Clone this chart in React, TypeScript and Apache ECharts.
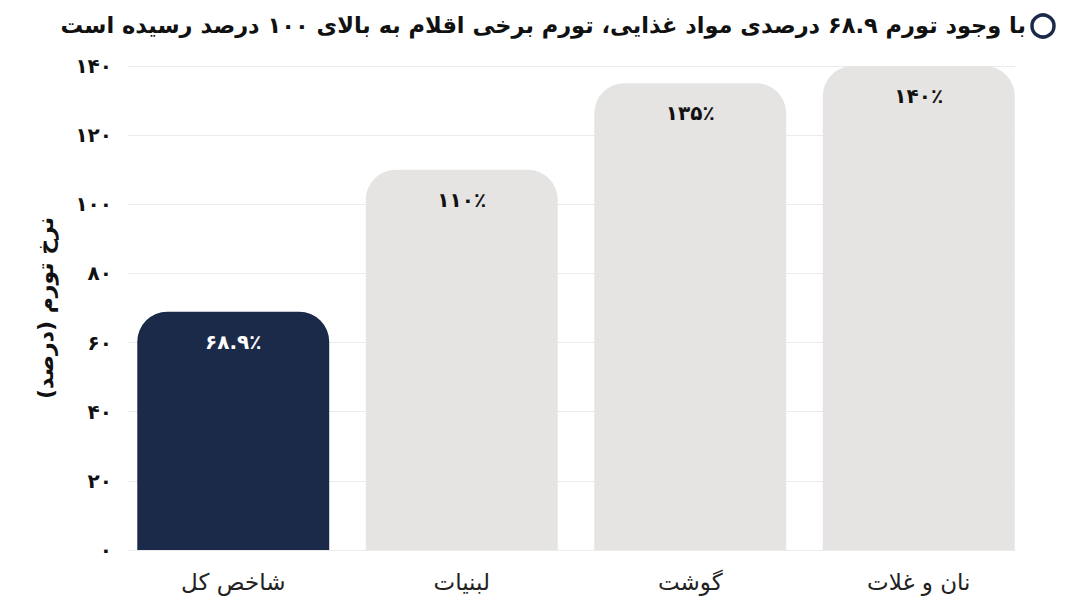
import React, { useEffect, useRef } from "react";
import * as echarts from "echarts";

const titleText = "با وجود تورم ۶۸.۹ درصدی مواد غذایی، تورم برخی اقلام به بالای ۱۰۰ درصد رسیده است";
const yAxisName = "نرخ تورم (درصد)";
const categories = ["شاخص کل", "لبنیات", "گوشت", "نان و غلات"];
const values = [68.9, 110, 135, 140];
const highlightIndex = 0;
const yMin = 0;
const yMax = 140;
const yInterval = 20;

const NAVY = "#1c2a4a";
const GREY = "#e5e4e3";
const FONT = "'DejaVu Sans', 'Noto Sans', sans-serif";

const toFa = (s: string) => s.replace(/[0-9]/g, (d) => "۰۱۲۳۴۵۶۷۸۹"[+d]);

export default function App() {
  const ref = useRef<HTMLDivElement>(null);
  useEffect(() => {
    document.body.style.margin = "0";
    const chart = echarts.init(ref.current!, undefined, { renderer: "svg" });
    chart.setOption({
      animation: false,
      backgroundColor: "#ffffff",
      textStyle: { fontFamily: FONT },
      graphic: [
        {
          type: "circle",
          shape: { cx: 1043, cy: 26, r: 11 },
          style: { fill: "none", stroke: NAVY, lineWidth: 3.5 },
        },
        {
          type: "text",
          x: 1026,
          y: 25,
          style: {
            text: titleText,
            align: "right",
            verticalAlign: "middle",
            fontFamily: FONT,
            fontWeight: "bold",
            fontSize: 22.5,
            fill: "#111111",
          },
        },
      ],
      grid: [
        { left: 128, right: 73, top: 66, bottom: 58 },
        { left: 119, right: 55, top: 66, bottom: 58 },
      ],
      xAxis: [
        { gridIndex: 0, type: "value", min: 0, max: 1, show: false },
        {
          gridIndex: 1,
          type: "category",
          data: categories,
          axisLine: { show: false },
          axisTick: { show: false },
          axisLabel: { fontSize: 23, color: "#222222", margin: 20, fontFamily: FONT },
        },
      ],
      yAxis: [
        {
          gridIndex: 0,
          type: "value",
          min: yMin,
          max: yMax,
          interval: yInterval,
          name: yAxisName,
          nameLocation: "middle",
          nameRotate: 90,
          nameGap: 72,
          nameTextStyle: { fontSize: 22, fontWeight: "bold", color: "#111111", fontFamily: FONT },
          axisLine: { show: false },
          axisTick: { show: false },
          axisLabel: {
            fontSize: 20,
            fontWeight: "bold",
            color: "#111111",
            margin: 16,
            fontFamily: FONT,
            formatter: (v: number) => toFa(String(v)),
          },
          splitLine: { lineStyle: { color: "#ebebeb", width: 1 } },
        },
        { gridIndex: 1, type: "value", min: yMin, max: yMax, show: false },
      ],
      series: [
        {
          type: "bar",
          xAxisIndex: 1,
          yAxisIndex: 1,
          barCategoryGap: "16%",
          data: values.map((v, i) => ({
            value: v,
            itemStyle: { color: i === highlightIndex ? NAVY : GREY, borderRadius: [30, 30, 0, 0] },
            label: { color: i === highlightIndex ? "#ffffff" : "#111111" },
          })),
          label: {
            show: true,
            position: "insideTop",
            distance: 20,
            fontSize: 20,
            fontWeight: "bold",
            fontFamily: FONT,
            formatter: (p: any) => toFa(String(p.value)) + "٪",
          },
        },
      ],
    });
    return () => chart.dispose();
  }, []);
  return <div ref={ref} style={{ width: 1088, height: 608 }} />;
}
